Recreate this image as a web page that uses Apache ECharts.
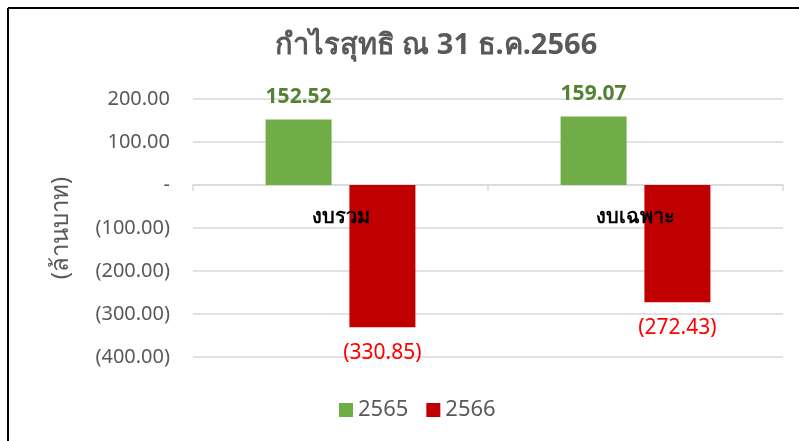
<!DOCTYPE html>
<html><head><meta charset="utf-8">
<script src="https://cdn.jsdelivr.net/npm/echarts@6/dist/echarts.min.js"></script>
<style>html,body{margin:0;padding:0;background:#fff}#c{width:799px;height:441px}</style>
</head><body><div id="c"></div>
<script>
const categories = ['งบรวม', 'งบเฉพาะ'];
const seriesNames = ['2565', '2566'];
const values2565 = [152.52, 159.07];
const values2566 = [-330.85, -272.43];
const titleText = 'กำไรสุทธิ ณ 31 ธ.ค.2566';
const yAxisName = '(ล้านบาท)';
const yMin = -400, yMax = 200, yStep = 100;

const FONT = 'Tahoma, "Noto Sans", "DejaVu Sans", sans-serif';
function fmt(v){
  if (Math.abs(v) < 1e-9) return '-';
  const s = Math.abs(v).toFixed(2);
  return v < 0 ? '(' + s + ')' : s;
}
const gridTop = 99, gridBottom = 84, H = 441;
const plotH = H - gridTop - gridBottom;
const zeroFromBottom = (0 - yMin) / (yMax - yMin) * plotH;

const chart = echarts.init(document.getElementById('c'));
chart.setOption({
  animation: false,
  textStyle: {fontFamily: FONT},
  title: {text: titleText, left: 431, textAlign: 'center', top: 26,
    textStyle: {fontSize: 29, fontWeight: 'bold', color: '#595959', fontFamily: FONT}},
  legend: {data: seriesNames, bottom: 15, left: 334, itemWidth: 14, itemHeight: 14, itemGap: 18,
    icon: 'rect', textStyle: {fontSize: 22, color: '#595959', fontFamily: FONT}},
  grid: {left: 193, right: 16, top: gridTop, bottom: gridBottom},
  xAxis: [
    {type: 'category', data: categories,
     axisLine: {onZero: true, lineStyle: {color: '#D9D9D9', width: 1.5}},
     axisTick: {show: true, length: 6, lineStyle: {color: '#D9D9D9', width: 1.5}},
     axisLabel: {show: false}},
    {type: 'category', data: categories, position: 'bottom', offset: -zeroFromBottom, z: 20, zlevel: 1,
     axisLine: {show: false}, axisTick: {show: false},
     axisLabel: {margin: 22, fontSize: 20, fontWeight: 'bold', color: '#000', fontFamily: FONT}}
  ],
  yAxis: {type: 'value', min: yMin, max: yMax, interval: yStep,
    name: yAxisName, nameLocation: 'middle', nameGap: 120, nameRotate: 90,
    nameTextStyle: {fontSize: 24, color: '#595959', fontFamily: FONT},
    axisLine: {show: false}, axisTick: {show: false},
    axisLabel: {formatter: fmt, fontSize: 20, color: '#595959', margin: 23, fontFamily: FONT},
    splitLine: {lineStyle: {color: '#D9D9D9', width: 1.5}}},
  series: [
    {name: seriesNames[0], type: 'bar', data: values2565, barWidth: 66, barGap: '27%',
     itemStyle: {color: '#70AD47'},
     label: {show: true, position: 'top', distance: 12, formatter: p => fmt(p.value),
       fontSize: 21, fontWeight: 'bold', color: '#548235', fontFamily: FONT}},
    {name: seriesNames[1], type: 'bar', data: values2566, barWidth: 66,
     itemStyle: {color: '#C00000'},
     label: {show: true, position: 'bottom', distance: 15, formatter: p => fmt(p.value),
       fontSize: 21, color: '#FF0000', fontFamily: FONT}}
  ],
  graphic: [
    {type: 'line', shape: {x1: 8, y1: 8, x2: 799, y2: 8}, style: {stroke: '#000', lineWidth: 2}},
    {type: 'line', shape: {x1: 8, y1: 8, x2: 8, y2: 441}, style: {stroke: '#000', lineWidth: 2}}
  ]
});
</script></body></html>
